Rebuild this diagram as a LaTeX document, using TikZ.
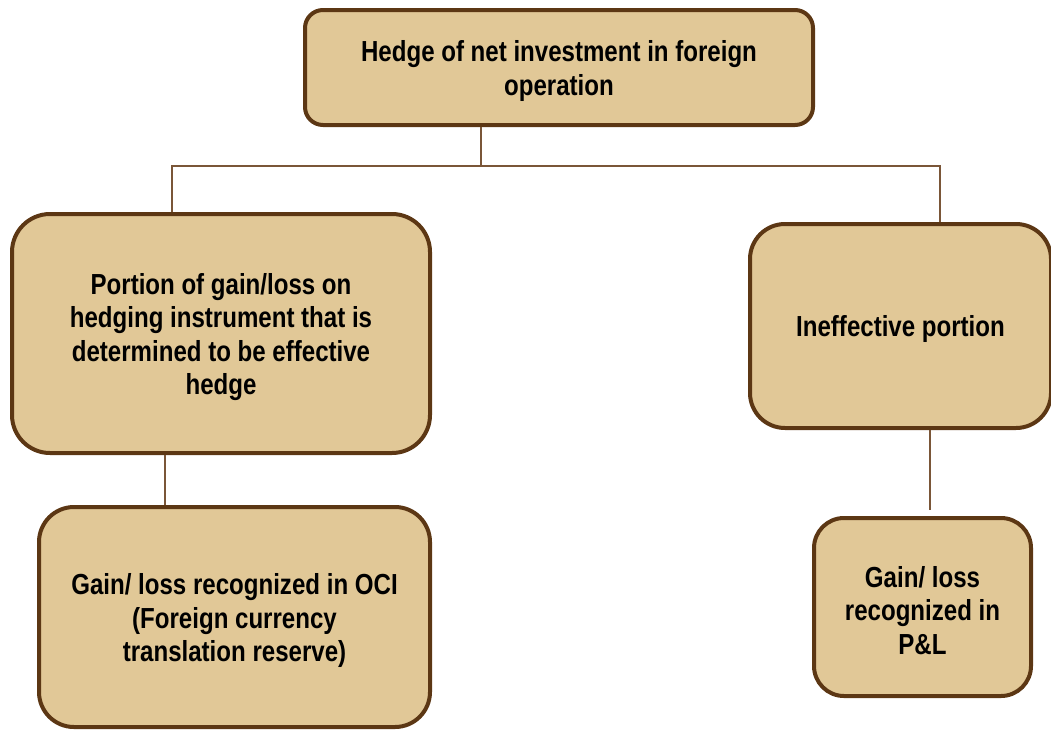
\documentclass[tikz,border=0pt]{standalone}
\usepackage{fontspec}
\setmainfont{Liberation Sans}[FakeStretch=0.83]
\definecolor{boxfill}{HTML}{E1C897}
\definecolor{boxline}{HTML}{5C3714}
\definecolor{linkline}{HTML}{7A5638}
\newcommand{\lift}{\rule{0pt}{28pt}}

\begin{document}
\begin{tikzpicture}[x=1pt, y=-1pt,
    box/.style = {draw = boxline, fill = boxfill, line width = 4pt, align = center,
      inner sep = 0pt, font = \fontsize{29}{33.5}\selectfont\bfseries},
    link/.style = {draw = linkline, line width = 1.5pt}]%
    \useasboundingbox (0, 0) rectangle (1051, 731);

    \node[box, minimum width = 508pt, minimum height = 115pt, rounded corners = 18pt] (top) at (559, 67.5)
      {\lift Hedge of net investment in foreign\\operation};
    \node[box, minimum width = 418pt, minimum height = 239pt, rounded corners = 38pt] (eff) at (221, 333.5)
      {\lift Portion of gain/loss on\\hedging instrument that is\\determined to be effective\\hedge};
    \node[box, minimum width = 301pt, minimum height = 204pt, rounded corners = 35pt] (ineff) at (900.5, 326)
      {\lift Ineffective portion};
    \node[box, minimum width = 391pt, minimum height = 220pt, rounded corners = 35pt] (oci) at (234.5, 617)
      {\lift Gain/ loss recognized in OCI\\(Foreign currency\\translation reserve)};
    \node[box, minimum width = 217pt, minimum height = 178pt, rounded corners = 30pt] (pl) at (922.5, 607)
      {\lift Gain/ loss\\recognized in\\P\&L};

    % branch points
    \coordinate (split) at (481, 166);
    \coordinate (lbranch) at (172, 166);
    \coordinate (rbranch) at (940, 166);
    \coordinate (lstem) at (165, 480);
    \coordinate (rstem) at (930, 510);

    \draw[link] (top.south -| split) -- (split);
    \draw[link] (eff.north -| lbranch) -- (lbranch) -- (rbranch) -- (ineff.north -| rbranch);
    \draw[link] (eff.south -| lstem) -- (oci.north -| lstem);
    \draw[link] (ineff.south -| rstem) -- (rstem);
  \end{tikzpicture}
\end{document}
